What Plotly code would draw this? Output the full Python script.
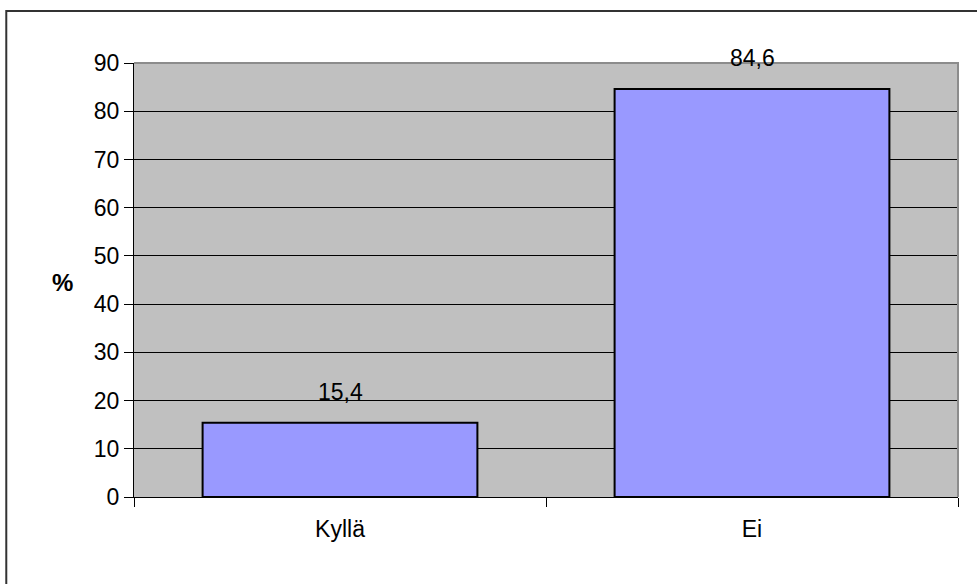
import plotly.graph_objects as go

categories = ["Kyllä", "Ei"]
values = [15.4, 84.6]
y_ticks = [0, 10, 20, 30, 40, 50, 60, 70, 80, 90]

FONT = "Liberation Sans, Arial, sans-serif"
FS = 23

fig = go.Figure()
fig.add_trace(go.Bar(
    x=categories, y=values,
    marker=dict(color="#9999FF", line=dict(color="black", width=2)),
    hoverinfo="skip",
))

for c, v in zip(categories, values):
    fig.add_annotation(x=c, y=v, text=f"{v:.1f}".replace(".", ","),
                       showarrow=False, yshift=31, yanchor="middle",
                       font=dict(family=FONT, size=FS, color="black"))

fig.add_annotation(xref="paper", yref="paper", x=-0.087, y=0.495, text="<b>%</b>",
                   xanchor="center", yanchor="middle",
                   showarrow=False, font=dict(family=FONT, size=24, color="black"))

# plot area top/right border (gray)
fig.add_shape(type="path", xref="paper", yref="paper", path="M 0,1 L 1,1 L 1,0",
              line=dict(color="#8C8C8C", width=2), layer="above")
# outer chart border (left and top edges visible in the frame)
fig.add_shape(type="path", xref="paper", yref="paper",
              path="M -0.155,-0.3 L -0.155,1.12 L 1.1,1.12",
              line=dict(color="#333333", width=2), layer="below")

fig.update_layout(
    width=977, height=584,
    margin=dict(l=134, r=19, t=63, b=87),
    paper_bgcolor="white", plot_bgcolor="#C0C0C0",
    bargap=0.333, showlegend=False,
    font=dict(family=FONT, size=FS, color="black"),
)
fig.update_xaxes(
    type="category", tickson="boundaries", ticks="outside", ticklen=9,
    tickcolor="black", tickwidth=1, showline=True, linecolor="black", linewidth=1,
    showgrid=False, tickfont=dict(family=FONT, size=FS, color="black"),
    ticklabelstandoff=11,
)
fig.update_yaxes(
    range=[0, 90], tickvals=y_ticks, ticks="outside", ticklen=9, tickcolor="black",
    showline=True, linecolor="black", linewidth=1, showgrid=True, gridcolor="black",
    gridwidth=1, zeroline=False, tickfont=dict(family=FONT, size=FS, color="black"),
)

fig.write_html("out.html", config={"displayModeBar": False},
               post_script="document.body.style.margin='0';")
